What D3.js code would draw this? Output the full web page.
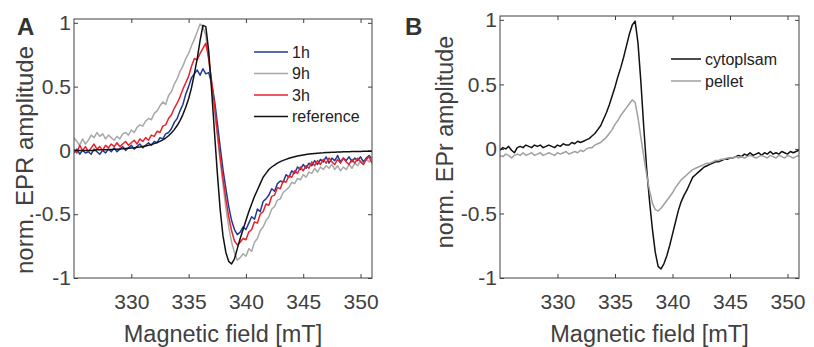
<!DOCTYPE html>
<html>
<head>
<meta charset="utf-8">
<script src="https://cdn.jsdelivr.net/npm/d3@7"></script>
<style>
  body { margin: 0; background: #fff; }
  svg { font-family: "Liberation Sans", Arial, sans-serif; }
  .tick text { fill: #404040; }
  .tick line { stroke: #404040; }
</style>
</head>
<body>
<svg id="chart" width="814" height="347"></svg>
<script>
// magnetic field sweep (mT), shared by all traces
const field = [
  325, 325.25, 325.5, 325.75, 326, 326.25, 326.5, 326.75, 327, 327.25, 327.5, 327.75,
  328, 328.25, 328.5, 328.75, 329, 329.25, 329.5, 329.75, 330, 330.25, 330.5, 330.75,
  331, 331.25, 331.5, 331.75, 332, 332.25, 332.5, 332.75, 333, 333.25, 333.5, 333.75,
  334, 334.25, 334.5, 334.75, 335, 335.25, 335.5, 335.75, 336, 336.25, 336.5, 336.75,
  337, 337.25, 337.5, 337.75, 338, 338.25, 338.5, 338.75, 339, 339.25, 339.5, 339.75,
  340, 340.25, 340.5, 340.75, 341, 341.25, 341.5, 341.75, 342, 342.25, 342.5, 342.75,
  343, 343.25, 343.5, 343.75, 344, 344.25, 344.5, 344.75, 345, 345.25, 345.5, 345.75,
  346, 346.25, 346.5, 346.75, 347, 347.25, 347.5, 347.75, 348, 348.25, 348.5, 348.75,
  349, 349.25, 349.5, 349.75, 350, 350.25, 350.5, 350.75, 351
];

// panel A
const h1 = [
  -0.02, 0.01, -0.03, 0.00, -0.02, -0.01, -0.03, 0.01, -0.01, -0.03, 0.00, -0.02,
  0.01, -0.01, 0.02, -0.01, 0.01, 0.03, 0.00, 0.02, 0.04, 0.01, 0.03, 0.05,
  0.02, 0.04, 0.06, 0.04, 0.07, 0.06, 0.10, 0.09, 0.13, 0.14, 0.17, 0.22,
  0.25, 0.31, 0.36, 0.44, 0.50, 0.57, 0.60, 0.63, 0.59, 0.64, 0.60, 0.61,
  0.53, 0.40, 0.22, 0.03, -0.15, -0.30, -0.44, -0.55, -0.62, -0.66, -0.64, -0.60,
  -0.62, -0.57, -0.52, -0.54, -0.46, -0.48, -0.40, -0.38, -0.35, -0.30, -0.32, -0.26,
  -0.24, -0.25, -0.19, -0.21, -0.16, -0.18, -0.13, -0.15, -0.11, -0.14, -0.10, -0.12,
  -0.08, -0.11, -0.07, -0.09, -0.05, -0.10, -0.06, -0.08, -0.04, -0.09, -0.06, -0.08,
  -0.05, -0.09, -0.06, -0.08, -0.05, -0.09, -0.06, -0.04, -0.07
];
const h9 = [
  0.10, 0.07, 0.04, 0.09, 0.05, 0.08, 0.12, 0.10, 0.14, 0.11, 0.13, 0.09,
  0.12, 0.10, 0.08, 0.11, 0.09, 0.13, 0.14, 0.12, 0.16, 0.14, 0.18, 0.20,
  0.19, 0.23, 0.25, 0.24, 0.29, 0.31, 0.35, 0.38, 0.36, 0.43, 0.46, 0.52,
  0.56, 0.62, 0.66, 0.72, 0.76, 0.82, 0.87, 0.93, 0.99, 0.97, 0.90, 0.72,
  0.52, 0.32, 0.12, -0.08, -0.27, -0.45, -0.60, -0.72, -0.80, -0.86, -0.84, -0.81,
  -0.83, -0.77, -0.79, -0.72, -0.69, -0.63, -0.60, -0.55, -0.52, -0.46, -0.44, -0.39,
  -0.38, -0.33, -0.31, -0.29, -0.25, -0.26, -0.22, -0.23, -0.19, -0.21, -0.17, -0.18,
  -0.14, -0.17, -0.13, -0.15, -0.12, -0.14, -0.11, -0.15, -0.12, -0.16, -0.13, -0.15,
  -0.11, -0.14, -0.10, -0.12, -0.08, -0.11, -0.07, -0.09, -0.06
];
const h3 = [
  0.01, -0.02, 0.04, 0.00, 0.03, -0.01, 0.02, 0.05, 0.01, 0.03, 0.00, 0.04,
  0.02, 0.05, 0.03, 0.06, 0.03, 0.05, 0.07, 0.04, 0.06, 0.08, 0.05, 0.09,
  0.07, 0.10, 0.08, 0.12, 0.11, 0.15, 0.14, 0.19, 0.20, 0.25, 0.28, 0.33,
  0.37, 0.42, 0.48, 0.53, 0.58, 0.66, 0.72, 0.71, 0.76, 0.80, 0.84, 0.72,
  0.55, 0.36, 0.15, -0.05, -0.22, -0.38, -0.52, -0.63, -0.71, -0.74, -0.72, -0.69,
  -0.70, -0.64, -0.62, -0.56, -0.57, -0.50, -0.48, -0.42, -0.43, -0.36, -0.35, -0.29,
  -0.30, -0.24, -0.25, -0.20, -0.21, -0.16, -0.18, -0.13, -0.16, -0.12, -0.14, -0.09,
  -0.12, -0.08, -0.11, -0.07, -0.10, -0.06, -0.09, -0.11, -0.07, -0.10, -0.06, -0.09,
  -0.11, -0.07, -0.10, -0.06, -0.09, -0.11, -0.07, -0.05, -0.10
];
const reference = [
  0.00, 0.00, 0.00, 0.00, 0.00, 0.00, 0.00, 0.00, 0.005, 0.005, 0.005, 0.006,
  0.007, 0.008, 0.009, 0.010, 0.012, 0.013, 0.015, 0.017, 0.019, 0.021, 0.024, 0.027,
  0.031, 0.035, 0.040, 0.046, 0.053, 0.061, 0.071, 0.083, 0.097, 0.115, 0.137, 0.163,
  0.195, 0.234, 0.281, 0.338, 0.405, 0.49, 0.60, 0.72, 0.86, 0.98, 0.97, 0.78,
  0.48, 0.15, -0.17, -0.46, -0.67, -0.80, -0.87, -0.89, -0.85, -0.77, -0.69, -0.62,
  -0.55, -0.48, -0.42, -0.36, -0.31, -0.26, -0.21, -0.18, -0.15, -0.13, -0.115, -0.10,
  -0.088, -0.078, -0.070, -0.062, -0.055, -0.049, -0.044, -0.040, -0.036, -0.032, -0.029, -0.026,
  -0.024, -0.022, -0.020, -0.019, -0.017, -0.016, -0.015, -0.014, -0.013, -0.012, -0.011, -0.011,
  -0.010, -0.009, -0.009, -0.008, -0.008, -0.007, -0.007, -0.006, -0.006
];

// panel B
const cytoplasm = [
  -0.01, 0.01, 0.00, 0.02, -0.01, -0.03, 0.01, 0.02, 0.01, 0.03, 0.02, 0.01,
  0.03, 0.02, 0.03, 0.01, 0.02, 0.03, 0.02, 0.01, 0.03, 0.02, 0.04, 0.03,
  0.03, 0.05, 0.04, 0.06, 0.05, 0.06, 0.07, 0.08, 0.10, 0.12, 0.15, 0.18,
  0.23, 0.28, 0.34, 0.41, 0.48, 0.56, 0.63, 0.71, 0.80, 0.89, 0.96, 0.99,
  0.82, 0.52, 0.17, -0.15, -0.40, -0.62, -0.80, -0.91, -0.93, -0.89, -0.83, -0.75,
  -0.66, -0.57, -0.48, -0.41, -0.36, -0.32, -0.27, -0.22, -0.20, -0.18, -0.16, -0.14,
  -0.13, -0.12, -0.11, -0.10, -0.10, -0.09, -0.08, -0.08, -0.07, -0.07, -0.06, -0.05,
  -0.06, -0.04, -0.05, -0.03, -0.05, -0.04, -0.03, -0.05, -0.03, -0.04, -0.02, -0.04,
  -0.03, -0.04, -0.02, -0.03, -0.04, -0.02, -0.03, -0.02, -0.01
];
const pellet = [
  -0.05, -0.06, -0.04, -0.05, -0.07, -0.05, -0.04, -0.05, -0.03, -0.05, -0.04, -0.03,
  -0.05, -0.04, -0.03, -0.05, -0.04, -0.03, -0.04, -0.05, -0.03, -0.04, -0.03, -0.02,
  -0.04, -0.03, -0.02, -0.03, -0.01, -0.02, 0.00, 0.01, 0.01, 0.03, 0.04, 0.05,
  0.07, 0.09, 0.12, 0.15, 0.19, 0.22, 0.26, 0.29, 0.32, 0.35, 0.38, 0.36,
  0.24, 0.09, -0.06, -0.20, -0.32, -0.42, -0.47, -0.48, -0.46, -0.43, -0.40, -0.37,
  -0.34, -0.30, -0.27, -0.24, -0.22, -0.20, -0.18, -0.16, -0.15, -0.14, -0.13, -0.12,
  -0.11, -0.11, -0.10, -0.09, -0.09, -0.08, -0.08, -0.07, -0.07, -0.07, -0.06, -0.07,
  -0.06, -0.07, -0.06, -0.05, -0.06, -0.07, -0.06, -0.05, -0.06, -0.07, -0.05, -0.06,
  -0.07, -0.05, -0.06, -0.07, -0.05, -0.06, -0.07, -0.06, -0.05
];

const xTicks = [330, 335, 340, 345, 350];
const yTicks = [-1, -0.5, 0, 0.5, 1];

const seriesA = [
  { name: "1h", values: h1, color: "#1f3a94" },
  { name: "9h", values: h9, color: "#a8a8a8" },
  { name: "3h", values: h3, color: "#e8212b" },
  { name: "reference", values: reference, color: "#111111" }
];
const seriesB = [
  { name: "cytoplsam", values: cytoplasm, color: "#111111" },
  { name: "pellet", values: pellet, color: "#a0a0a0" }
];

const svg = d3.select("#chart");

function drawPanel(cfg) {
  const x = d3.scaleLinear().domain([325, 351]).range([cfg.left, cfg.right]);
  const y = d3.scaleLinear().domain([-1, 1.03]).range([278, cfg.top]);
  const g = svg.append("g");

  const fmt = d => d === 0 ? "0" : String(d);

  g.append("g")
      .attr("transform", "translate(0,278)")
      .call(d3.axisBottom(x).tickValues(xTicks).tickSize(-4).tickPadding(16))
      .call(a => a.select(".domain").remove())
      .selectAll("text").attr("font-size", 21);
  g.append("g")
      .attr("transform", `translate(0,${cfg.top})`)
      .call(d3.axisTop(x).tickValues(xTicks).tickSize(-4).tickFormat(""))
      .call(a => a.select(".domain").remove());
  g.append("g")
      .attr("transform", `translate(${cfg.left},0)`)
      .call(d3.axisLeft(y).tickValues(yTicks).tickSize(-4).tickPadding(3).tickFormat(fmt))
      .call(a => a.select(".domain").remove())
      .selectAll("text").attr("font-size", 21);
  g.append("g")
      .attr("transform", `translate(${cfg.right},0)`)
      .call(d3.axisRight(y).tickValues(yTicks).tickSize(-4).tickFormat(""))
      .call(a => a.select(".domain").remove());
  g.selectAll(".tick text").attr("font-family", "Liberation Sans, Arial, sans-serif");

  const clipId = "clip" + cfg.letter;
  svg.append("clipPath").attr("id", clipId)
    .append("rect")
      .attr("x", cfg.left).attr("y", cfg.top)
      .attr("width", cfg.right - cfg.left).attr("height", 278 - cfg.top);

  const line = d3.line()
      .x((d, i) => x(field[i]))
      .y(d => y(d));

  g.append("g").attr("clip-path", `url(#${clipId})`)
    .selectAll("path")
    .data(cfg.series)
    .join("path")
      .attr("fill", "none")
      .attr("stroke", d => d.color)
      .attr("stroke-width", 1.5)
      .attr("stroke-linejoin", "round")
      .attr("d", d => line(d.values));

  g.append("rect")
      .attr("x", cfg.left).attr("y", cfg.top)
      .attr("width", cfg.right - cfg.left).attr("height", 278 - cfg.top)
      .attr("fill", "none").attr("stroke", "#404040").attr("stroke-width", 1);

  // legend
  const lg = g.append("g");
  cfg.series.forEach((s, i) => {
    const ly = cfg.legendY + i * cfg.legendStep;
    lg.append("line")
        .attr("x1", cfg.legendX).attr("x2", cfg.legendX + cfg.legendLen)
        .attr("y1", ly).attr("y2", ly)
        .attr("stroke", s.color).attr("stroke-width", 1.5);
    lg.append("text")
        .attr("x", cfg.legendX + cfg.legendLen + 4).attr("y", ly)
        .attr("dy", "0.35em")
        .attr("font-size", 16).attr("fill", "#222")
        .text(s.name);
  });

  // axis titles
  g.append("text")
      .attr("transform", `translate(${cfg.ylabX},${cfg.ylabY}) rotate(-90)`)
      .attr("text-anchor", "middle")
      .attr("font-size", cfg.ylabSize).attr("fill", "#404040")
      .text(cfg.ylabel);
  g.append("text")
      .attr("x", (cfg.left + cfg.right) / 2).attr("y", 342)
      .attr("text-anchor", "middle")
      .attr("font-size", 23.5).attr("fill", "#404040")
      .text("Magnetic field [mT]");
  g.append("text")
      .attr("x", cfg.letterX).attr("y", 35)
      .attr("font-size", 24).attr("font-weight", "bold").attr("fill", "#333")
      .text(cfg.letter);
}

drawPanel({
  letter: "A", letterX: 17, left: 74, right: 372, top: 19,
  series: seriesA, legendX: 254, legendLen: 34, legendY: 52, legendStep: 21.5,
  ylabel: "norm. EPR amplitude", ylabX: 33, ylabY: 160, ylabSize: 24
});
drawPanel({
  letter: "B", letterX: 405, left: 500, right: 799, top: 16,
  series: seriesB, legendX: 671, legendLen: 30, legendY: 59, legendStep: 22,
  ylabel: "norm. EPr amplitude", ylabX: 453, ylabY: 142, ylabSize: 23.3
});
</script>
</body>
</html>
